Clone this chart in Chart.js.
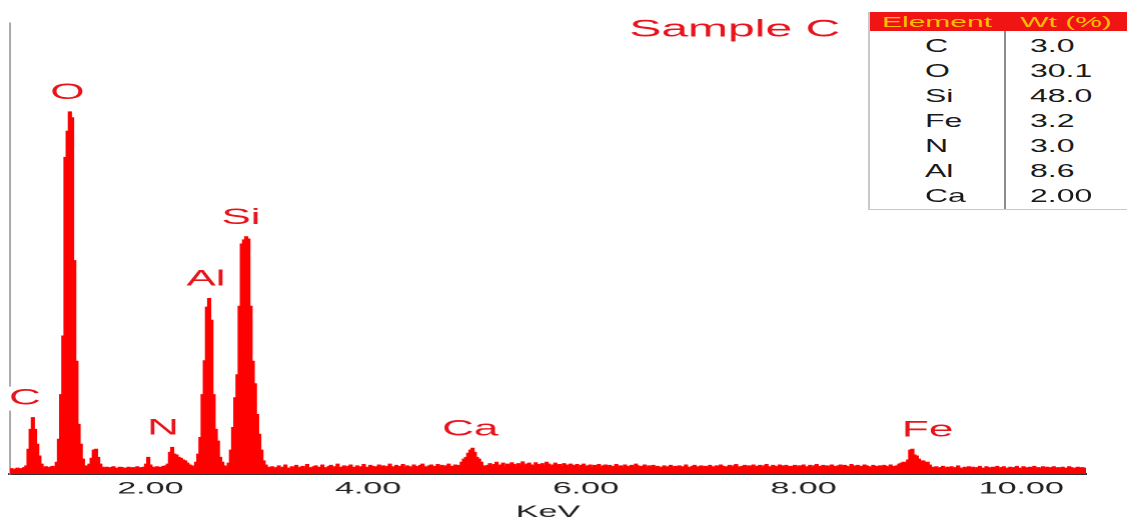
<!DOCTYPE html>
<html>
<head>
<meta charset="utf-8">
<title>Sample C</title>
<script src="https://cdn.jsdelivr.net/npm/chart.js@4.4.0/dist/chart.umd.min.js"></script>
<style>
    html, body { margin: 0; padding: 0; background: #fff; overflow: hidden; }
    /* the original picture is stretched sideways, so everything is drawn half as wide and scaled */
    #wrap {
        position: absolute; left: 0; top: 0;
        width: 563.5px; height: 521px;
        transform: scaleX(2); transform-origin: 0 0;
        font-family: "Liberation Sans", Arial, sans-serif;
    }
    #table {
        position: absolute; left: 434px; top: 12px; width: 130px; height: 198px;
        border-left: 1px solid #c8c8c8; border-bottom: 1px solid #c8c8c8;
        background: #fff; box-sizing: border-box;
    }
    #table .head {
        position: absolute; left: 0; top: 0; right: 0; height: 19px;
        background: #f01414; color: #ffbf00; font-size: 15px; line-height: 19px;
    }
    #table .head span { position: absolute; top: 0; text-align: center; }
    #table .divider {
        position: absolute; left: 67px; top: 19px; bottom: 0;
        border-left: 1px solid #8c8c8c;
    }
    #table .row {
        position: absolute; left: 0; right: 0; height: 25px;
        font-size: 16px; line-height: 25px; color: #1a1a1a;
    }
    #table .row span { position: absolute; top: 0; transform: scaleY(1.2); }
</style>
</head>
<body>
<div id="wrap">
    <canvas id="spectrum"></canvas>
    <div id="table"></div>
</div>
<script>
    // channel calibration of the spectrum
    const keVStart = 0.70;
    const keVStep = 0.02;

    // counts per channel
    const counts = [
        10, 12, 9, 11, 13, 10, 12, 14, 18, 55, 99, 125, 99, 66, 40, 22, 13, 16, 12, 15,
        17, 15, 26, 77, 176, 306, 702, 760, 803, 790, 473, 250, 110, 66, 33, 18, 18, 22, 35, 53,
        55, 37, 22, 15, 13, 15, 12, 14, 16, 13, 12, 15, 14, 11, 13, 15, 12, 14, 13, 16,
        12, 14, 15, 22, 37, 20, 15, 13, 16, 14, 15, 17, 18, 22, 48, 59, 44, 42, 37, 35,
        31, 29, 24, 20, 18, 15, 26, 44, 81, 176, 251, 370, 389, 341, 176, 99, 73, 37, 26, 18,
        15, 24, 53, 103, 169, 220, 372, 510, 519, 526, 521, 372, 250, 200, 132, 88, 53, 29, 20, 15,
        13, 16, 11, 14, 18, 12, 15, 20, 13, 11, 16, 14, 19, 12, 15, 17, 13, 21, 14, 12,
        16, 18, 13, 15, 20, 14, 12, 17, 19, 13, 16, 22, 14, 15, 18, 12, 17, 20, 15, 13,
        18, 14, 16, 21, 15, 13, 19, 17, 14, 16, 20, 15, 18, 13, 17, 22, 16, 14, 19, 15,
        17, 21, 14, 18, 16, 13, 20, 17, 15, 19, 22, 16, 14, 18, 20, 15, 17, 21, 16, 19,
        15, 18, 22, 17, 16, 20, 19, 18, 26, 33, 37, 46, 53, 57, 48, 37, 33, 26, 18, 16,
        19, 23, 17, 21, 26, 18, 20, 24, 16, 22, 19, 25, 21, 17, 23, 20, 27, 18, 22, 24,
        20, 17, 25, 21, 19, 23, 18, 26, 22, 17, 20, 24, 19, 21, 16, 23, 20, 18, 22, 19,
        17, 21, 15, 19, 22, 16, 18, 20, 14, 19, 17, 21, 15, 18, 20, 16, 19, 14, 17, 21,
        16, 18, 14, 20, 17, 15, 19, 16, 22, 18, 15, 17, 20, 14, 18, 16, 19, 15, 17, 13,
        15, 18, 14, 16, 19, 13, 17, 15, 18, 14, 16, 20, 15, 13, 17, 19, 14, 16, 18, 15,
        17, 14, 19, 16, 13, 18, 15, 20, 17, 14, 16, 19, 15, 18, 21, 16, 14, 17, 19, 15,
        18, 16, 20, 15, 17, 19, 14, 18, 21, 16, 15, 19, 17, 14, 20, 18, 16, 19, 15, 17,
        16, 19, 14, 18, 17, 20, 15, 16, 19, 14, 18, 21, 17, 15, 19, 16, 18, 14, 20, 17,
        15, 18, 20, 16, 19, 17, 14, 21, 18, 16, 19, 15, 17, 20, 18, 16, 14, 19, 17, 15,
        18, 16, 19, 17, 15, 20, 16, 17, 18, 22, 24, 26, 26, 31, 53, 55, 42, 40, 33, 29,
        29, 26, 26, 20, 15, 13, 16, 12, 14, 17, 11, 15, 13, 16, 12, 14, 18, 13, 11, 15,
        13, 16, 12, 15, 11, 14, 17, 13, 12, 16, 14, 11, 15, 13, 17, 12, 14, 16, 11, 13,
        15, 12, 14, 17, 13, 11, 16, 14, 12, 15, 13, 17, 12, 14, 11, 16, 13, 15, 12, 14,
        16, 12, 14, 11, 15, 13, 12, 16, 14, 11, 13, 15, 12, 14, 13, 12
    ];

    // element lines marked on the spectrum
    const peakNames = ['C', 'O', 'N', 'Al', 'Si', 'Ca', 'Fe'];
    const peakKeV = [0.846, 1.237, 2.115, 2.51, 2.832, 4.938, 9.14];

    const sampleName = 'Sample C';

    // x axis ticks
    const tickValues = [2, 4, 6, 8, 10];
    const tickLabels = ['2.00', '4.00', '6.00', '8.00', '10.00'];

    // composition table
    const tableHeader = ['Element', 'Wt (%)'];
    const tableElements = ['C', 'O', 'Si', 'Fe', 'N', 'Al', 'Ca'];
    const tableWt = ['3.0', '30.1', '48.0', '3.2', '3.0', '8.6', '2.00'];

    const red = '#ff0000';
    const labelRed = '#e8141c';
    const font = '"Liberation Sans", Arial, sans-serif';

    // labels above the peaks and the sample name
    const peakLabels = {
        id: 'peakLabels',
        afterDatasetsDraw(chart) {
            const { ctx, scales: { x, y } } = chart;
            ctx.save();
            ctx.textAlign = 'center';
            ctx.textBaseline = 'middle';
            ctx.font = '22px ' + font;
            peakNames.forEach((name, i) => {
                let top = 0;
                counts.forEach((c, j) => {
                    if (Math.abs(keVStart + j * keVStep - peakKeV[i]) <= 0.15) top = Math.max(top, c);
                });
                const px = x.getPixelForValue(peakKeV[i]);
                const py = y.getPixelForValue(top) - 19;
                const w = ctx.measureText(name).width;
                // clear the axis line behind the label, like the original
                ctx.fillStyle = '#fff';
                ctx.fillRect(px - w / 2 - 2, py - 12, w + 4, 24);
                ctx.fillStyle = labelRed;
                ctx.fillText(name, px, py);
            });
            ctx.font = '24px ' + font;
            ctx.fillText(sampleName, 367, 30);
            ctx.restore();
        }
    };

    new Chart(document.getElementById('spectrum'), {
        type: 'line',
        data: {
            datasets: [{
                label: sampleName,
                data: counts.map((c, i) => ({ x: keVStart + i * keVStep, y: c })),
                borderColor: red,
                backgroundColor: red,
                borderWidth: 1,
                pointRadius: 0,
                stepped: 'middle',
                fill: 'origin'
            }]
        },
        options: {
            responsive: true,
            maintainAspectRatio: false,
            animation: false,
            devicePixelRatio: 2,
            layout: { padding: { left: 5, right: 21, top: 23, bottom: 0 } },
            plugins: {
                legend: { display: false },
                tooltip: { enabled: false }
            },
            scales: {
                x: {
                    type: 'linear',
                    min: 0.71,
                    max: 10.595,
                    grid: { display: false, drawTicks: false },
                    border: { display: true, color: '#333', width: 2 },
                    afterBuildTicks: (scale) => {
                        scale.ticks = tickValues.map(v => ({ value: v }));
                    },
                    ticks: {
                        padding: 6.5,
                        color: '#222',
                        maxRotation: 0,
                        autoSkip: false,
                        font: { family: font, size: 17, lineHeight: 1 },
                        callback: (value) => tickLabels[tickValues.indexOf(value)] ?? ''
                    },
                    title: {
                        display: true,
                        text: 'KeV',
                        color: '#222',
                        padding: { top: 0, bottom: 0 },
                        font: { family: font, size: 17, lineHeight: 1 }
                    }
                },
                y: {
                    min: 0,
                    max: 1000,
                    grid: { display: false, drawTicks: false },
                    border: { display: true, color: '#aaa', width: 1 },
                    ticks: { display: false }
                }
            }
        },
        plugins: [peakLabels]
    });

    // composition table in the top right corner
    const table = document.getElementById('table');
    let html = '<div class="head">' +
        '<span style="left:0;width:67px">' + tableHeader[0] + '</span>' +
        '<span style="left:67px;right:0">' + tableHeader[1] + '</span></div>' +
        '<div class="divider"></div>';
    tableElements.forEach((el, i) => {
        html += '<div class="row" style="top:' + (20.5 + i * 25) + 'px">' +
            '<span style="left:27.5px">' + el + '</span>' +
            '<span style="left:80px">' + tableWt[i] + '</span></div>';
    });
    table.innerHTML = html;
</script>
</body>
</html>
